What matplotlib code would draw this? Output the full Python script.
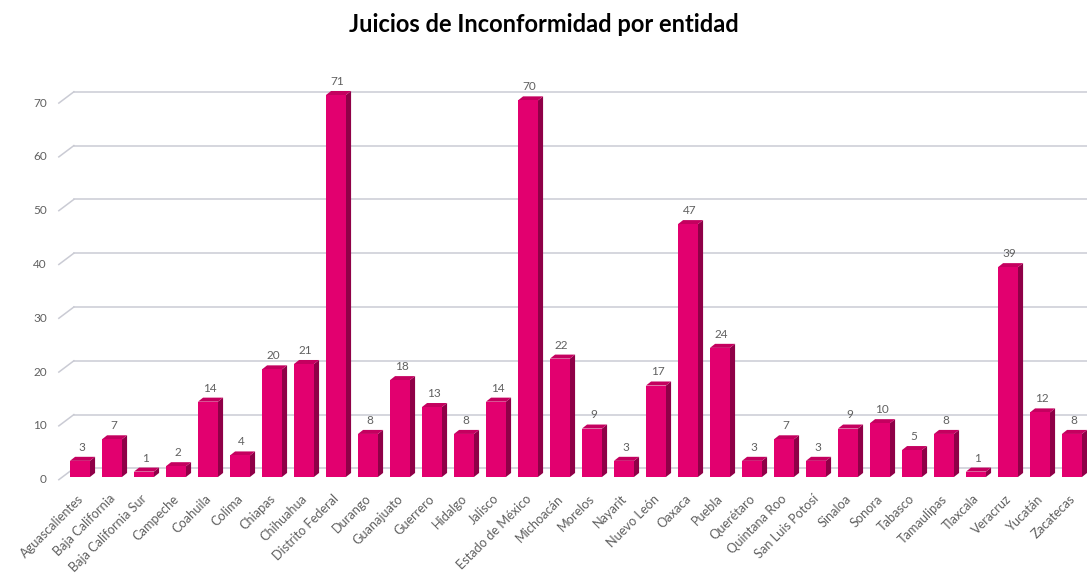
import matplotlib
matplotlib.use("Agg")
import matplotlib.pyplot as plt
from matplotlib.patches import Polygon

# -------------------------------
# Data
# -------------------------------
entidades = [
    "Aguascalientes", "Baja California", "Baja California Sur", "Campeche",
    "Coahuila", "Colima", "Chiapas", "Chihuahua", "Distrito Federal",
    "Durango", "Guanajuato", "Guerrero", "Hidalgo", "Jalisco",
    "Estado de México", "Michoacán", "Morelos", "Nayarit", "Nuevo León",
    "Oaxaca", "Puebla", "Querétaro", "Quintana Roo", "San Luis Potosí",
    "Sinaloa", "Sonora", "Tabasco", "Tamaulipas", "Tlaxcala", "Veracruz",
    "Yucatán", "Zacatecas",
]
juicios = [3, 7, 1, 2, 14, 4, 20, 21, 71, 8, 18, 13, 8, 14, 70, 22, 9, 3,
           17, 47, 24, 3, 7, 3, 9, 10, 5, 8, 1, 39, 12, 8]
y_ticks = [0, 10, 20, 30, 40, 50, 60, 70]

# -------------------------------
# Style
# -------------------------------
plt.rcParams["font.family"] = ["Lato", "DejaVu Sans"]
FRONT = "#E2006F"
SIDE = "#8F0047"
TOP = "#C4005F"
GRID = "#CACBD4"
TEXT = "#606060"

W = 0.625    # front face width
DX = 0.16    # depth in x
DY = 0.75    # depth in y
GOFF = 1.6   # back wall offset of gridlines

fig = plt.figure(figsize=(10.87, 5.78), dpi=100)
ax = fig.add_axes([55 / 1087, 98 / 578, 1 - 55 / 1087, 410 / 578])
ax.set_xlim(-0.78, 31.47)
ax.set_ylim(-0.56, 75.65)
for s in ax.spines.values():
    s.set_visible(False)

# gridlines on the back wall, with the small diagonal to the labels
for v in y_ticks:
    ax.plot([-0.19, 31.47], [v + GOFF, v + GOFF], color=GRID, lw=1.1,
            zorder=1, clip_on=False)
    ax.plot([-0.66, -0.19], [v - 0.5, v + GOFF], color=GRID, lw=1.1,
            zorder=1, clip_on=False)
    ax.text(-1.03, v - 0.5, str(v), ha="right", va="center",
            fontsize=8.5, color=TEXT, clip_on=False)

# 3D-looking bars
for i, v in enumerate(juicios):
    x0, x1 = i - W / 2, i + W / 2
    side = [(x1, 0), (x1 + DX, DY), (x1 + DX, v + DY), (x1, v)]
    top = [(x0, v), (x1, v), (x1 + DX, v + DY), (x0 + DX, v + DY)]
    ax.add_patch(Polygon(side, closed=True, facecolor=SIDE,
                         edgecolor="none", zorder=3))
    ax.add_patch(Polygon(top, closed=True, facecolor=TOP,
                         edgecolor="none", zorder=3))
    ax.bar(i, v, width=W, color=FRONT, zorder=4, linewidth=0)
    ax.text(i + 0.05, v + 1.5, str(v), ha="center", va="bottom",
            fontsize=8.5, color=TEXT, zorder=5)

ax.set_yticks([])
ax.set_xticks([i - 0.1 for i in range(len(entidades))])
ax.set_xticklabels(entidades, rotation=45, ha="right",
                   rotation_mode="anchor", fontsize=9.2, color=TEXT)
ax.tick_params(axis="x", length=0, pad=9)

fig.text(0.5, 1 - 32 / 578, "Juicios de Inconformidad por entidad",
         ha="center", va="baseline", fontsize=17, fontweight="bold",
         color="black")

fig.savefig("out.png", dpi=100)
